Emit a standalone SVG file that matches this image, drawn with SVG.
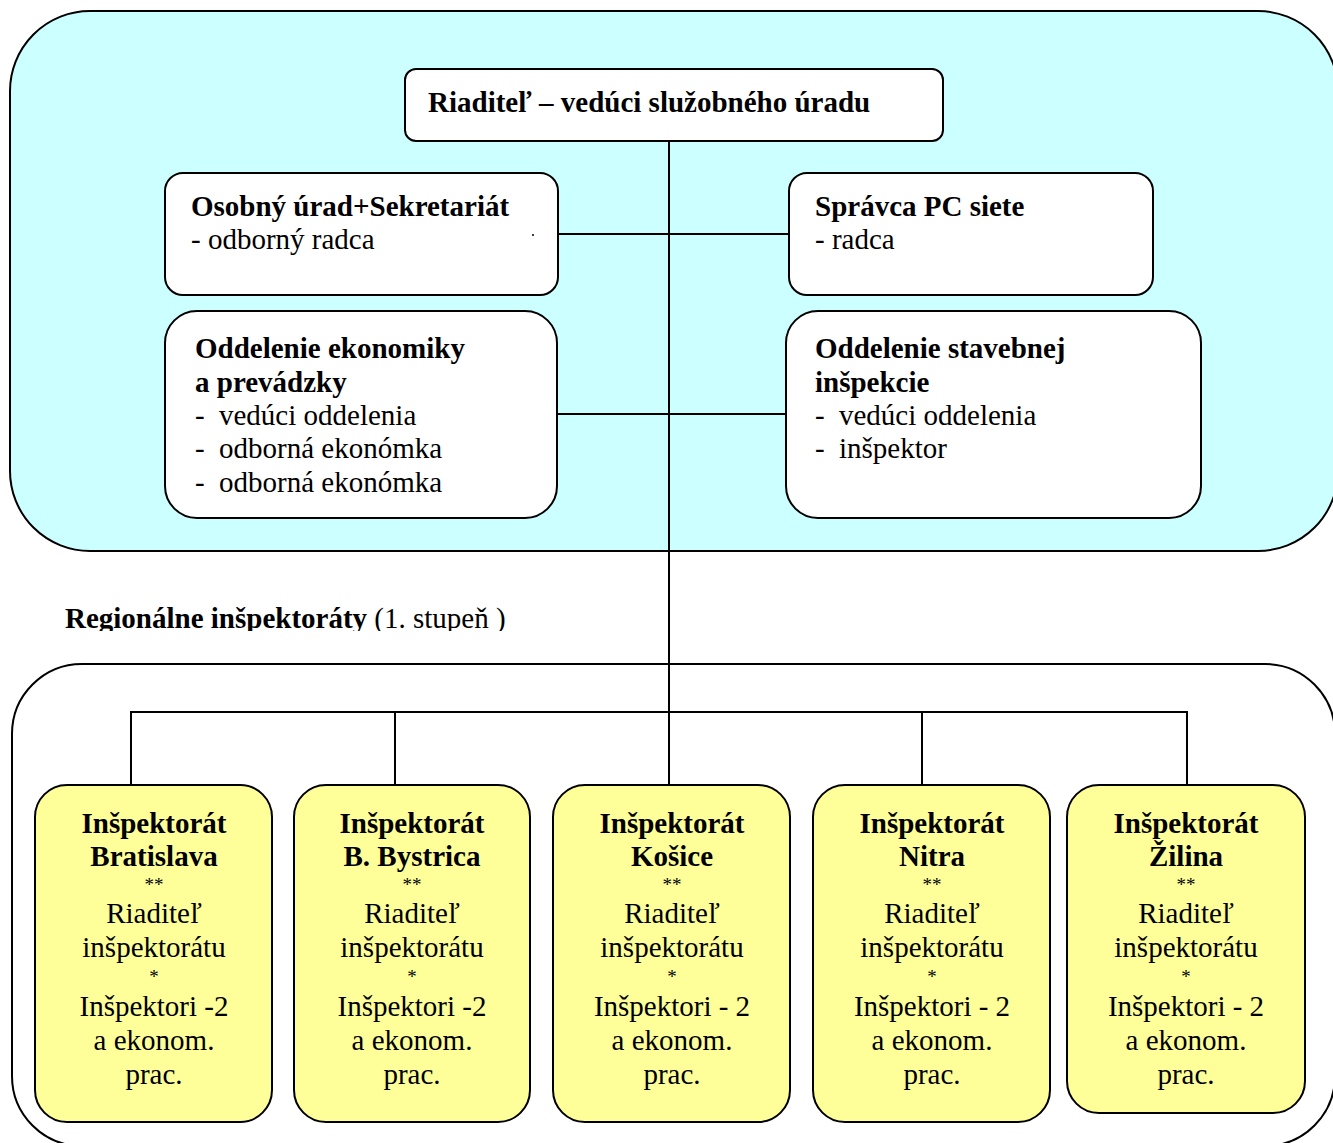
<svg xmlns="http://www.w3.org/2000/svg" width="1333" height="1143" viewBox="0 0 1333 1143">
<defs>
<style>
.t{font-family:"Liberation Serif","Times New Roman",serif;font-size:29px;fill:#000}
.b{font-weight:bold}
.c{text-anchor:middle}
.s{font-size:19px}
.box{fill:#fff;stroke:#000;stroke-width:2}
.yb{fill:#ffff99;stroke:#000;stroke-width:2}
.ln{stroke:#000;stroke-width:2;fill:none}
</style>
<clipPath id="clipReg"><rect x="0" y="595" width="600" height="36"/></clipPath>
</defs>
<g id="top-container"><rect x="10" y="11" width="1328" height="540" rx="80" fill="#ccffff" stroke="#000" stroke-width="2"/></g>
<g id="bottom-container"><rect x="12" y="664" width="1323" height="482" rx="70" fill="#fff" stroke="#000" stroke-width="2"/></g>
<g id="connectors">
<line class="ln" x1="669" y1="141" x2="669" y2="786"/>
<line class="ln" x1="558" y1="234" x2="789" y2="234"/>
<line class="ln" x1="557" y1="414" x2="786" y2="414"/>
<polyline class="ln" points="131,786 131,712 1187,712 1187,786"/>
<line class="ln" x1="395" y1="712" x2="395" y2="786"/>
<line class="ln" x1="922" y1="712" x2="922" y2="786"/>
</g>
<g id="director">
<rect class="box" x="405" y="69" width="538" height="72" rx="11"/>
<text class="t b" x="428" y="112">Riaditeľ – vedúci služobného úradu</text>
</g>
<g id="osobny-urad">
<rect class="box" x="165" y="173" width="393" height="122" rx="18"/>
<text class="t b" x="191" y="216">Osobný úrad+Sekretariát</text>
<text class="t" x="191" y="249">- odborný radca</text>
<circle cx="533" cy="235" r="1" fill="#000"/>
</g>
<g id="spravca">
<rect class="box" x="789" y="173" width="364" height="122" rx="18"/>
<text class="t b" x="815" y="216">Správca PC siete</text>
<text class="t" x="815" y="249">- radca</text>
</g>
<g id="oddelenie-ekonomiky">
<rect class="box" x="165" y="311" width="392" height="207" rx="32"/>
<text class="t b" x="195" y="358">Oddelenie ekonomiky</text>
<text class="t b" x="195" y="392">a prevádzky</text>
<text class="t" x="195" y="425">-</text><text class="t" x="219" y="425">vedúci oddelenia</text>
<text class="t" x="195" y="458">-</text><text class="t" x="219" y="458">odborná ekonómka</text>
<text class="t" x="195" y="492">-</text><text class="t" x="219" y="492">odborná ekonómka</text>
</g>
<g id="oddelenie-stavebnej">
<rect class="box" x="786" y="311" width="415" height="207" rx="32"/>
<text class="t b" x="815" y="358">Oddelenie stavebnej</text>
<text class="t b" x="815" y="392">inšpekcie</text>
<text class="t" x="815" y="425">-</text><text class="t" x="839" y="425">vedúci oddelenia</text>
<text class="t" x="815" y="458">-</text><text class="t" x="839" y="458">inšpektor</text>
</g>
<g id="regional-label" clip-path="url(#clipReg)">
<text class="t" x="65" y="628"><tspan class="b">Regionálne inšpektoráty</tspan> (1. stupeň )</text>
</g>
<g id="bratislava">
<rect class="yb" x="35" y="785" width="237" height="337" rx="32"/>
<text class="t b c" x="154" y="833">Inšpektorát</text>
<text class="t b c" x="154" y="866">Bratislava</text>
<text class="t c s" x="154" y="891">**</text>
<text class="t c" x="154" y="923">Riaditeľ</text>
<text class="t c" x="154" y="957">inšpektorátu</text>
<text class="t c s" x="154" y="983">*</text>
<text class="t c" x="154" y="1016">Inšpektori -2</text>
<text class="t c" x="154" y="1050">a ekonom.</text>
<text class="t c" x="154" y="1084">prac.</text>
</g>
<g id="banska-bystrica">
<rect class="yb" x="294" y="785" width="236" height="337" rx="32"/>
<text class="t b c" x="412" y="833">Inšpektorát</text>
<text class="t b c" x="412" y="866">B. Bystrica</text>
<text class="t c s" x="412" y="891">**</text>
<text class="t c" x="412" y="923">Riaditeľ</text>
<text class="t c" x="412" y="957">inšpektorátu</text>
<text class="t c s" x="412" y="983">*</text>
<text class="t c" x="412" y="1016">Inšpektori -2</text>
<text class="t c" x="412" y="1050">a ekonom.</text>
<text class="t c" x="412" y="1084">prac.</text>
</g>
<g id="kosice">
<rect class="yb" x="553" y="785" width="237" height="337" rx="32"/>
<text class="t b c" x="672" y="833">Inšpektorát</text>
<text class="t b c" x="672" y="866">Košice</text>
<text class="t c s" x="672" y="891">**</text>
<text class="t c" x="672" y="923">Riaditeľ</text>
<text class="t c" x="672" y="957">inšpektorátu</text>
<text class="t c s" x="672" y="983">*</text>
<text class="t c" x="672" y="1016">Inšpektori - 2</text>
<text class="t c" x="672" y="1050">a ekonom.</text>
<text class="t c" x="672" y="1084">prac.</text>
</g>
<g id="nitra">
<rect class="yb" x="813" y="785" width="237" height="337" rx="32"/>
<text class="t b c" x="932" y="833">Inšpektorát</text>
<text class="t b c" x="932" y="866">Nitra</text>
<text class="t c s" x="932" y="891">**</text>
<text class="t c" x="932" y="923">Riaditeľ</text>
<text class="t c" x="932" y="957">inšpektorátu</text>
<text class="t c s" x="932" y="983">*</text>
<text class="t c" x="932" y="1016">Inšpektori - 2</text>
<text class="t c" x="932" y="1050">a ekonom.</text>
<text class="t c" x="932" y="1084">prac.</text>
</g>
<g id="zilina">
<rect class="yb" x="1067" y="785" width="238" height="328" rx="32"/>
<text class="t b c" x="1186" y="833">Inšpektorát</text>
<text class="t b c" x="1186" y="866">Žilina</text>
<text class="t c s" x="1186" y="891">**</text>
<text class="t c" x="1186" y="923">Riaditeľ</text>
<text class="t c" x="1186" y="957">inšpektorátu</text>
<text class="t c s" x="1186" y="983">*</text>
<text class="t c" x="1186" y="1016">Inšpektori - 2</text>
<text class="t c" x="1186" y="1050">a ekonom.</text>
<text class="t c" x="1186" y="1084">prac.</text>
</g>
</svg>
